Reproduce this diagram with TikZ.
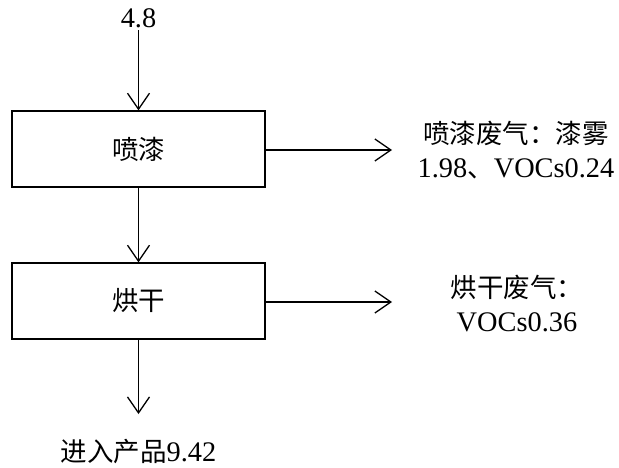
\documentclass[tikz,border=0pt]{standalone}
\usepackage{fontspec}
\setmainfont{Liberation Serif}[Scale=1.07]
\newfontfamily\cjk{Noto Sans CJK SC}
\usetikzlibrary{arrows.meta}
\begin{document}
\begin{tikzpicture}[arrow/.style={-{Straight Barb[length=16pt,width=22pt]}},box/.style={draw,minimum width=253pt,minimum height=76pt,inner sep=0pt},font=\fontsize{26.5}{34}\selectfont,x=1pt,y=-1pt,line width=1.3pt,inner sep=2pt]
		\useasboundingbox (0,0) rectangle (619,468);
		\node[box] (penqi) at (138.5,149) {\cjk 喷漆};
		\node[box] (honggan) at (138.5,301) {\cjk 烘干};
		\node (in) at (138.5,18) {4.8};
		\node (out) at (138.5,452) {{\cjk 进入产品}9.42};
		\node[align=center] (gas1) at (516,150) {{\cjk 喷漆废气：漆雾}\\1.98{\cjk 、}VOCs0.24};
		\node[align=center] (gas2) at (517,304) {{\cjk 烘干废气：}\\VOCs0.36};
		\coordinate (g1) at (392,150);
		\coordinate (g2) at (392,302);
		\draw[arrow] (in) -- (penqi);
		\draw[arrow] (penqi) -- (honggan);
		\draw[arrow,shorten >=23pt] (honggan) -- (out);
		\foreach \stage/\tgt in {penqi/g1,honggan/g2}
		\draw[arrow] (\stage.east|-\tgt) -- (\tgt);
	\end{tikzpicture}
\end{document}
